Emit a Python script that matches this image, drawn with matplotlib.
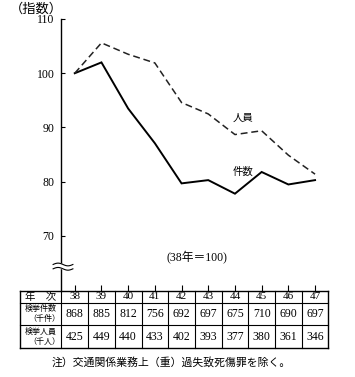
import matplotlib
matplotlib.use("Agg")
import matplotlib.pyplot as plt
import numpy as np

# ---- data ----
years = [38, 39, 40, 41, 42, 43, 44, 45, 46, 47]
cases_index = [100, 102.0, 93.5, 87.1, 79.7, 80.3, 77.8, 81.8, 79.5, 80.3]      # 件数
persons_index = [100, 105.6, 103.5, 101.9, 94.6, 92.5, 88.7, 89.4, 84.9, 81.4]  # 人員
cases_k = [868, 885, 812, 756, 692, 697, 675, 710, 690, 697]
persons_k = [425, 449, 440, 433, 402, 393, 377, 380, 361, 346]
yticks = [70, 80, 90, 100, 110]

SERIF = ['Liberation Serif', 'Noto Sans CJK JP']
CJK = ['Noto Sans CJK JP', 'DejaVu Sans']

W, H = 355, 377
fig = plt.figure(figsize=(W / 100, H / 100), dpi=100)

def fx(px):
    return px / W

def fy(py):
    return 1 - py / H

# main axes
ax_l, ax_r, ax_t, ax_b = 61.4, 328.4, 19, 291
ax = fig.add_axes([fx(ax_l), fy(ax_b), fx(ax_r - ax_l), (ax_b - ax_t) / H])
ax.set_xlim(37.5, 47.5)
ymin = 70 - (ax_b - 236) / ((236 - 19) / 40.0)
ax.set_ylim(ymin, 110)

ax.plot(years, cases_index, color='black', lw=1.4, solid_joinstyle='miter')
ax.plot(years, persons_index, color='#222222', lw=1.1, linestyle=(0, (4.5, 2.5)))

for s in ['top', 'right', 'bottom']:
    ax.spines[s].set_visible(False)
ax.spines['left'].set_linewidth(1.0)

ax.set_yticks(yticks)
ax.set_yticklabels([str(v) for v in yticks], fontfamily=SERIF, fontsize=8.5)
ax.tick_params(axis='y', direction='in', length=3, width=0.8, pad=5)
ax.set_xticks(years)
ax.set_xticklabels([])
ax.tick_params(axis='x', direction='in', length=4, width=0.8)

# axis break mark
xs = np.linspace(37.19, 37.93, 60)
wave = 0.25 * np.sin((xs - 37.19) / (37.93 - 37.19) * 2 * np.pi)
y1, y2 = 64.75, 63.95
ax.fill_between(xs, y2 + wave, y1 + wave, color='white', zorder=5, clip_on=False)
ax.plot(xs, y1 + wave, color='black', lw=0.8, zorder=6, clip_on=False)
ax.plot(xs, y2 + wave, color='black', lw=0.8, zorder=6, clip_on=False)

# annotations
ax.text(43.93, 91.7, '人員', fontfamily=CJK, fontsize=7.5, ha='left', va='center')
ax.text(43.93, 81.9, '件数', fontfamily=CJK, fontsize=7.5, ha='left', va='center')
ax.text(42.58, 65.9, '(38年＝100)', fontfamily=SERIF, fontsize=8.5, ha='center', va='center')
fig.text(fx(36), fy(9.5), '（指数）', fontfamily=CJK, fontsize=9.5, ha='center', va='center')

# table axes
t_l, t_r, t_t, t_b = 20, 328.4, 291, 348
px_per_year = (ax_r - ax_l) / 10.0
tx0 = 37.5 - (ax_l - t_l) / px_per_year
tab = fig.add_axes([fx(t_l), fy(t_b), fx(t_r - t_l), (t_b - t_t) / H])
tab.set_xlim(tx0, 47.5)
tab.set_ylim(t_b - t_t, 0)
tab.axis('off')

row_edges = [0, 11.5, 34, 57]
lw_in = 0.8
for y in row_edges:
    tab.plot([tx0, 47.5], [y, y], color='black', lw=1.0 if y in (0, 57) else lw_in, clip_on=False)
col_edges = [tx0] + [yr - 0.5 for yr in years] + [47.5]
for x in col_edges:
    tab.plot([x, x], [0, 57], color='black', lw=1.0 if x in (tx0, 47.5) else lw_in, clip_on=False)

lab_c = (tx0 + 37.5) / 2
tab.text(lab_c, 5.9, '年　次', fontfamily=CJK, fontsize=7.5, ha='center', va='center')
tab.text(lab_c, 17.3, '検挙件数', fontfamily=CJK, fontsize=5.8, ha='center', va='center')
tab.text(lab_c + 0.15, 27.8, '（千件）', fontfamily=CJK, fontsize=5.8, ha='center', va='center')
tab.text(lab_c, 40.3, '検挙人員', fontfamily=CJK, fontsize=5.8, ha='center', va='center')
tab.text(lab_c + 0.15, 50.8, '（千人）', fontfamily=CJK, fontsize=5.8, ha='center', va='center')
for yr, c, p in zip(years, cases_k, persons_k):
    tab.text(yr, 5.9, str(yr), fontfamily=SERIF, fontsize=8, ha='center', va='center')
    tab.text(yr, 22.8, str(c), fontfamily=SERIF, fontsize=8.5, ha='center', va='center')
    tab.text(yr, 45.5, str(p), fontfamily=SERIF, fontsize=8.5, ha='center', va='center')

fig.text(fx(171), fy(362), '注）交通関係業務上（重）過失致死傷罪を除く。',
         fontfamily=CJK, fontsize=7.8, ha='center', va='center')

fig.savefig('out.png', dpi=100)
